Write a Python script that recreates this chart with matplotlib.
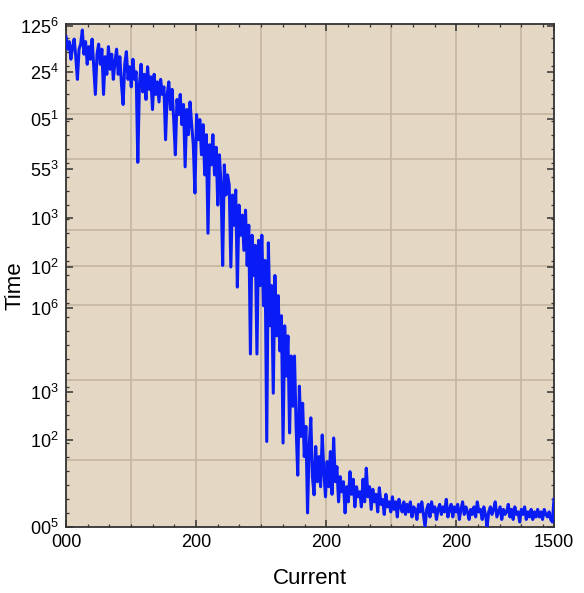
import numpy as np
import matplotlib
matplotlib.use("Agg")
import matplotlib.pyplot as plt
from matplotlib.ticker import FixedLocator, MultipleLocator

plt.rcParams['font.family'] = ['Liberation Sans', 'DejaVu Sans']
plt.rcParams['mathtext.fontset'] = 'custom'
plt.rcParams['mathtext.rm'] = 'Liberation Sans'
plt.rcParams['mathtext.it'] = 'Liberation Sans'

# time readings (axis units 0..100, bottom to top of the frame)
time_vals = [
    97.5, 95, 96.5, 93, 95.5, 97, 93.5, 89, 95, 96,
    98.8, 94, 96.5, 92, 95.5, 93, 97, 91.5, 86, 94,
    96, 92, 95, 86, 93.5, 90, 95.5, 91, 94, 89,
    92.5, 95, 90, 93.5, 88, 84, 92, 94.5, 89, 91.5,
    87.5, 93, 89, 90.5, 72.5, 88, 92, 86.5, 90, 85,
    91.5, 87, 89.5, 83, 90, 86, 88.5, 84.5, 89, 86,
    87.5, 77, 86, 88.5, 83, 87, 81, 74, 85, 82,
    86, 80, 84, 71.6, 83, 78, 84.5, 80, 76, 66.4,
    82, 77, 81, 74, 80, 70, 78, 58.4, 76, 72,
    78, 70, 75.5, 64, 74, 68, 52, 72, 66, 70,
    68, 51.7, 66, 60, 67, 47.7, 64, 58, 62, 55,
    63, 52, 60, 34.4, 58, 50, 56, 34.4, 57, 48,
    58, 44, 53, 17, 56.5, 40, 48, 26.6, 50, 38,
    46, 35, 42, 16.7, 40, 30, 38, 18.7, 34, 24,
    34, 20, 10.3, 28, 18, 24.6, 14, 20, 2.8, 16,
    21.7, 10, 6.4, 16, 9, 14, 8, 18.3, 11, 6,
    13, 8, 15, 6.5, 17.7, 9, 12, 5, 10, 7,
    9, 2.8, 8, 5, 11, 6.5, 9.5, 4, 8, 6,
    7, 4, 9.5, 5, 11.7, 6, 8, 3.5, 7.5, 5,
    6.5, 3, 7.8, 4.5, 5.5, 2.5, 6.5, 4, 5, 3,
    6, 3.5, 5, 2, 5.5, 4, 3, 5, 2.5, 4.5,
    3, 5, 2, 4, 3.5, 1.5, 4.5, 3, 5, 2.5,
    0, 3.5, 4.5, 2, 5, 3, 4, 1.5, 3.5, 4.5,
    2.5, 4, 3, 5.5, 2, 3.5, 4.5, 2, 4, 3,
    4.5, 1.5, 3.5, 5, 2.5, 4, 3, 1.5, 3.5, 2.5,
    4, 2, 5, 3, 3.5, 1.5, 4, 2.5, 0, 3,
    4, 2.5, 3.5, 5, 2, 3, 4, 1.5, 3.5, 2.5,
    3, 4.5, 2, 3.5, 1.5, 4, 2.5, 3, 1, 3.5,
    2.5, 4, 1.5, 3, 2, 3.5, 1.5, 3, 2, 3.5,
    2, 3, 1.5, 3.5, 2.5, 2, 3, 1.5, 1, 5.5,
]
current = np.linspace(0, 1500, len(time_vals))

xtick_pos = [0, 400, 800, 1200, 1500]
xtick_labels = ['000', '200', '200', '200', '1500']
ytick_pos = [99.6, 90.5, 81.1, 71.2, 61.4, 51.7, 43.5, 26.8, 17.3, 0]
ytick_labels = ['125$^{6}$', '25$^{4}$', '05$^{1}$', '55$^{3}$', '10$^{3}$',
                '10$^{2}$', '10$^{6}$', '10$^{3}$', '10$^{2}$', '00$^{5}$']
ygrid_pos = [82.1, 73.2, 59.0, 51.9, 44.1, 29.2, 13.3]
xgrid_pos = [200, 400, 600, 800, 1000, 1200, 1400]

fig = plt.figure(figsize=(5.84, 5.93), dpi=100)
ax = fig.add_axes([0.113, 0.1113, 0.8356, 0.8482])
ax.set_facecolor('#e4d7c4')

for g in xgrid_pos:
    ax.axvline(g, color='#c5b6a2', lw=1.2, zorder=1)
for g in ygrid_pos:
    ax.axhline(g, color='#c5b6a2', lw=1.2, zorder=1)

ax.plot(current, time_vals, color='#0a1cf5', lw=2.2, zorder=3)

ax.set_xlim(0, 1500)
ax.set_ylim(0, 100)
ax.xaxis.set_major_locator(FixedLocator(xtick_pos))
ax.set_xticklabels(xtick_labels)
ax.xaxis.set_minor_locator(MultipleLocator(200 / 3))
ax.yaxis.set_major_locator(FixedLocator(ytick_pos))
ax.set_yticklabels(ytick_labels)
ax.yaxis.set_minor_locator(MultipleLocator(2.78))

ax.tick_params(which='both', direction='in', top=True, right=True,
               colors='#333333', labelcolor='black')
ax.tick_params(which='major', length=5, width=1.1, labelsize=13, pad=5)
ax.tick_params(which='minor', length=2.5, width=0.9)
for s in ax.spines.values():
    s.set_color('#333333')
    s.set_linewidth(1.3)

ax.set_xlabel('Current', fontsize=16, labelpad=12)
ax.set_ylabel('Time', fontsize=16)
ax.yaxis.set_label_coords(-0.082, 0.48)

fig.savefig('out.png', dpi=100)
